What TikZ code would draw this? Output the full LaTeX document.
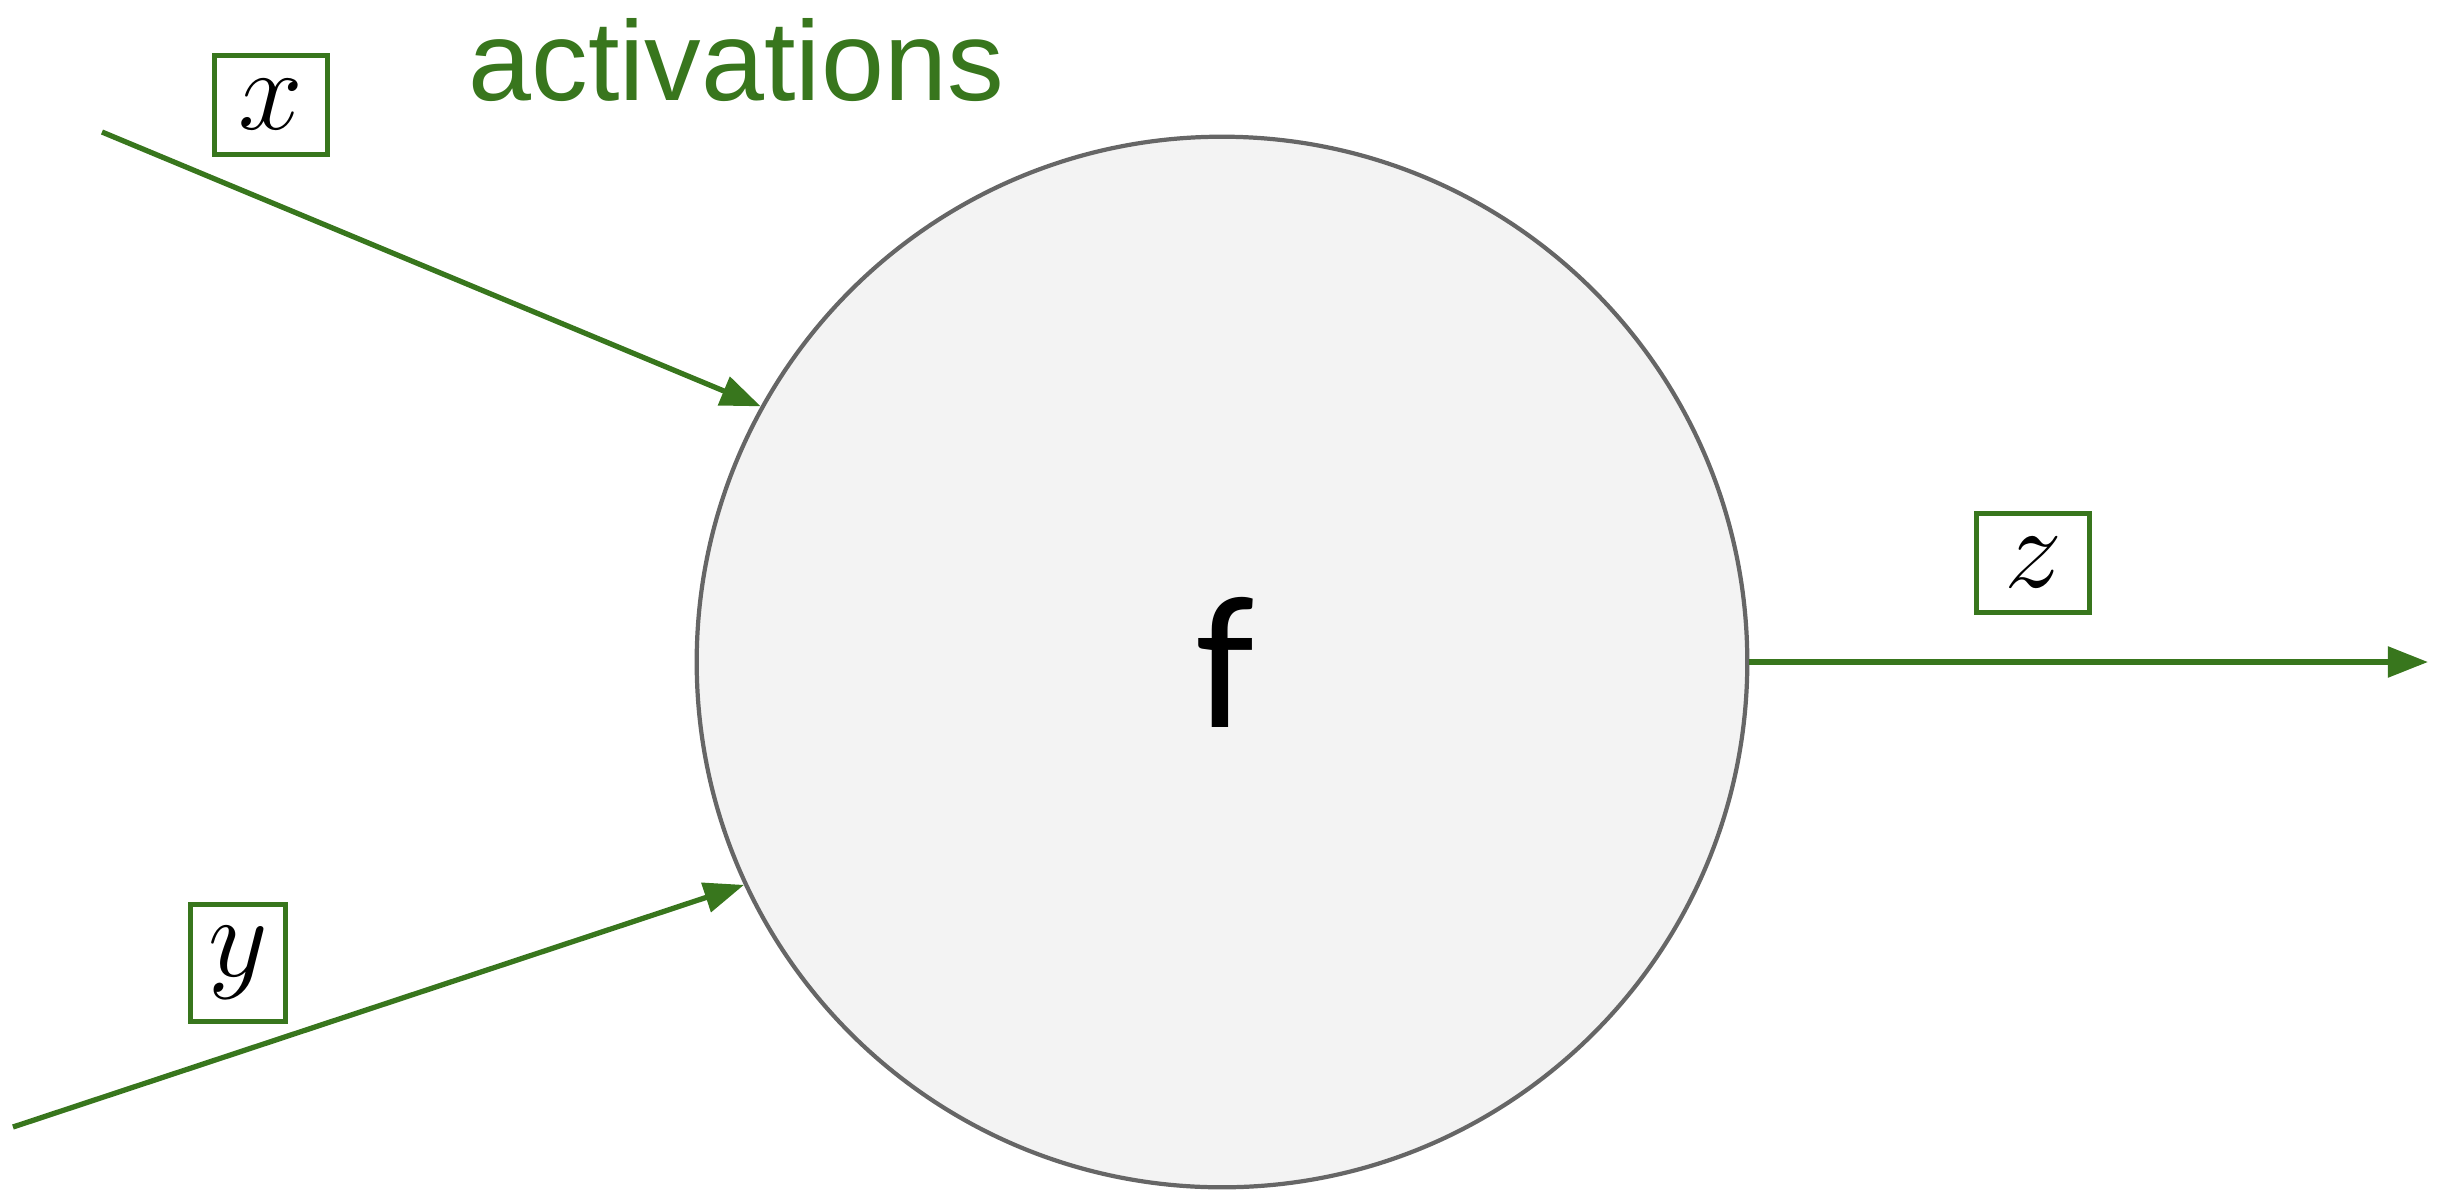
\RequirePackage{fix-cm}
\documentclass[tikz,border=0pt]{standalone}
\usepackage{fontspec}
\setmainfont{Liberation Sans}
\newfontfamily\calfont{Carlito}
\usetikzlibrary{arrows.meta}
\definecolor{ggreen}{HTML}{38761D}
\definecolor{cfill}{HTML}{F3F3F3}
\definecolor{cline}{HTML}{666666}
\tikzset{
  wire/.style={draw=ggreen, line width=1.5pt, -{Triangle[length=0.4cm, width=0.3cm]}},
  varbox/.style={draw=ggreen, line width=1.5pt, fill=white, inner sep=0pt,
    font=\fontsize{33}{36}\selectfont},
  unit/.style={circle, draw=cline, line width=1.2pt, fill=cfill, minimum size=10.5cm, inner sep=0pt},
}
\begin{document}
\begin{tikzpicture}[x=0.01cm, y=-0.01cm]
\useasboundingbox (0,0) rectangle (2456,1190);
\node[unit] (c) at (1222,662) {};
\node[font=\calfont\fontsize{54}{60}\selectfont] (f) at (1225,662) {f};
\node[anchor=base west, text=ggreen, inner sep=0pt, font=\fontsize{32.2}{36}\selectfont] (act) at (468,100) {activations};
\node[varbox, minimum width=1.13cm, minimum height=0.99cm] (bx) at (271,105) {$x$};
\node[varbox, minimum width=0.95cm, minimum height=1.17cm] (by) at (238,963) {$y$};
\node[varbox, minimum width=1.13cm, minimum height=0.99cm] (bz) at (2033,563) {$z$};
\coordinate (xs) at (102,132);
\coordinate (ys) at (13,1127);
\coordinate (ze) at (2428,662);
\draw[wire] (xs) -- (c.151);
\draw[wire] (ys) -- (c.205);
\draw[wire] (c.east) -- (ze);
\end{tikzpicture}
\end{document}
